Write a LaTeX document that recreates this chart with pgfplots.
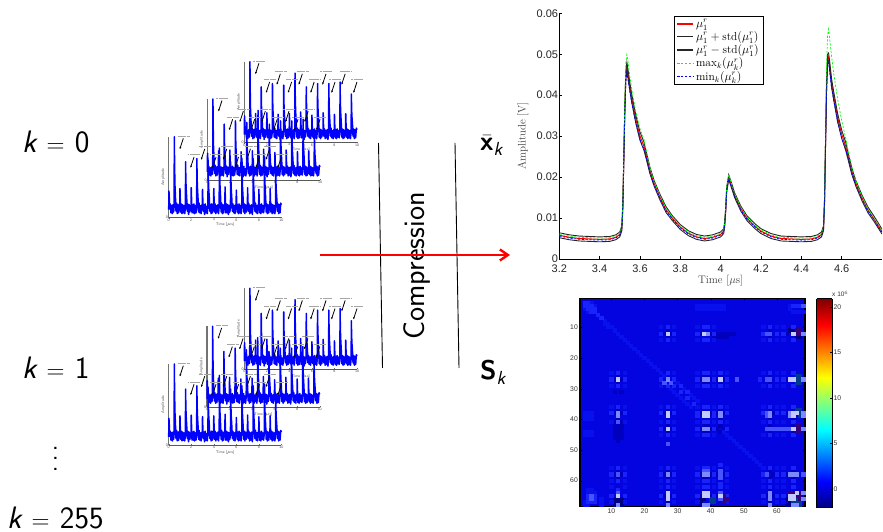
\documentclass[border=0pt]{standalone}
\usepackage{amsmath}
\usepackage{graphicx}
\usepackage{fontspec}
\usepackage{pgfplots}
\usepackage{pgfplotstable}
\pgfplotsset{compat=1.18}
\usetikzlibrary{arrows.meta}
\newfontfamily\hv{Liberation Sans}
\definecolor{hbase}{RGB}{4,4,224}
\definecolor{hdtwo}{RGB}{0,0,135}
\definecolor{hdone}{RGB}{0,0,190}
\definecolor{hlone}{RGB}{8,16,238}
\definecolor{hltwo}{RGB}{24,36,250}
\definecolor{hlthree}{RGB}{70,85,255}
\definecolor{hlfour}{RGB}{125,138,255}
\definecolor{hlfive}{RGB}{195,202,255}
\definecolor{hpur}{RGB}{55,0,125}
\definecolor{hteal}{RGB}{0,60,140}

\pgfplotstableread[row sep=\\]{
x y\\
0 .1\\ .02 .33\\ .05 .25\\ .09 .11\\ .14 .17\\ .2 .06\\ .26 .15\\ .32 .05\\ .38 .16\\ .44 .07\\ .48 .14\\
.5 1\\ .52 .68\\ .55 .42\\ .6 .25\\ .65 .08\\ .7 .18\\ .76 .05\\ .82 .16\\ .88 .06\\ .94 .17\\ .98 .1\\
1 .36\\ 1.03 .2\\ 1.07 .07\\ 1.12 .17\\ 1.18 .05\\ 1.24 .16\\ 1.3 .06\\ 1.36 .15\\ 1.42 .05\\ 1.48 .12\\
1.5 .69\\ 1.52 .47\\ 1.55 .36\\ 1.6 .23\\ 1.65 .08\\ 1.7 .17\\ 1.76 .04\\ 1.82 .16\\ 1.88 .07\\ 1.94 .15\\ 1.98 .1\\
2 .37\\ 2.03 .22\\ 2.07 .06\\ 2.12 .16\\ 2.18 .06\\ 2.24 .17\\ 2.3 .05\\ 2.36 .15\\ 2.42 .06\\ 2.48 .13\\
2.5 .73\\ 2.52 .5\\ 2.55 .37\\ 2.6 .24\\ 2.65 .07\\ 2.7 .18\\ 2.76 .06\\ 2.82 .15\\ 2.88 .05\\ 2.94 .16\\ 2.98 .1\\
3 .35\\ 3.03 .2\\ 3.07 .08\\ 3.12 .16\\ 3.18 .04\\ 3.24 .17\\ 3.3 .06\\ 3.36 .14\\ 3.42 .05\\ 3.48 .13\\
3.5 .71\\ 3.52 .48\\ 3.55 .36\\ 3.6 .25\\ 3.65 .08\\ 3.7 .16\\ 3.76 .05\\ 3.82 .17\\ 3.88 .06\\ 3.94 .15\\ 3.98 .09\\
4 .36\\ 4.03 .21\\ 4.07 .07\\ 4.12 .17\\ 4.18 .05\\ 4.24 .15\\ 4.3 .07\\ 4.36 .16\\ 4.42 .05\\ 4.48 .14\\
4.5 .86\\ 4.52 .58\\ 4.55 .4\\ 4.6 .26\\ 4.65 .07\\ 4.7 .18\\ 4.76 .05\\ 4.82 .16\\ 4.88 .06\\ 4.94 .15\\ 4.98 .1\\
5 .38\\ 5.03 .22\\ 5.07 .06\\ 5.12 .17\\ 5.18 .06\\ 5.24 .16\\ 5.3 .04\\ 5.36 .15\\ 5.42 .07\\ 5.48 .13\\
5.5 .69\\ 5.52 .47\\ 5.55 .35\\ 5.6 .23\\ 5.65 .08\\ 5.7 .17\\ 5.76 .06\\ 5.82 .15\\ 5.88 .05\\ 5.94 .16\\ 5.98 .11\\
6 .34\\ 6.03 .2\\ 6.07 .07\\ 6.12 .16\\ 6.18 .05\\ 6.24 .17\\ 6.3 .06\\ 6.36 .15\\ 6.42 .05\\ 6.48 .14\\
6.5 .73\\ 6.52 .5\\ 6.55 .37\\ 6.6 .24\\ 6.65 .07\\ 6.7 .17\\ 6.76 .05\\ 6.82 .16\\ 6.88 .07\\ 6.94 .15\\ 6.98 .1\\
7 .37\\ 7.03 .21\\ 7.07 .08\\ 7.12 .17\\ 7.18 .05\\ 7.24 .15\\ 7.3 .06\\ 7.36 .16\\ 7.42 .04\\ 7.48 .13\\
7.5 .73\\ 7.52 .5\\ 7.55 .37\\ 7.6 .24\\ 7.65 .08\\ 7.7 .18\\ 7.76 .06\\ 7.82 .15\\ 7.88 .05\\ 7.94 .16\\ 7.98 .1\\
8 .35\\ 8.03 .2\\ 8.07 .06\\ 8.12 .16\\ 8.18 .05\\ 8.24 .17\\ 8.3 .07\\ 8.36 .15\\ 8.42 .06\\ 8.48 .14\\
8.5 .75\\ 8.52 .51\\ 8.55 .38\\ 8.6 .25\\ 8.65 .07\\ 8.7 .17\\ 8.76 .05\\ 8.82 .16\\ 8.88 .06\\ 8.94 .15\\ 8.98 .1\\
9 .36\\ 9.03 .21\\ 9.07 .07\\ 9.12 .17\\ 9.18 .05\\ 9.24 .16\\ 9.3 .06\\ 9.36 .15\\ 9.42 .05\\ 9.48 .13\\
9.5 .6\\ 9.52 .42\\ 9.55 .32\\ 9.6 .22\\ 9.65 .08\\ 9.7 .17\\ 9.76 .05\\ 9.82 .16\\ 9.88 .06\\ 9.94 .18\\ 10 .16\\
}\sig

\pgfplotstableread[row sep=\\]{
x m p n M L\\
3.2 .0058 .0064 .0052 .0061 .0056\\
3.25 .0053 .0059 .0047 .0056 .0051\\
3.3 .0050 .0056 .0044 .0053 .0048\\
3.4 .0048 .0054 .0042 .0051 .0046\\
3.45 .0049 .0055 .0043 .0052 .0047\\
3.48 .0053 .0059 .0047 .0056 .0051\\
3.5 .0060 .0066 .0054 .0063 .0058\\
3.51 .0075 .0081 .0069 .0078 .0073\\
3.515 .013 .0137 .0123 .0135 .0125\\
3.52 .025 .0257 .0243 .026 .024\\
3.525 .037 .0378 .0362 .039 .036\\
3.53 .045 .046 .044 .048 .0435\\
3.535 .0472 .048 .0462 .0499 .0455\\
3.54 .0455 .0465 .0445 .0485 .044\\
3.55 .042 .043 .041 .0445 .0408\\
3.56 .039 .04 .038 .0412 .038\\
3.58 .034 .035 .033 .0358 .033\\
3.6 .030 .031 .029 .0318 .0292\\
3.62 .0275 .0285 .0265 .0292 .0268\\
3.63 .0255 .0264 .0246 .0268 .025\\
3.65 .0215 .0223 .0207 .0222 .021\\
3.67 .0185 .0192 .0178 .0190 .0181\\
3.7 .0150 .0157 .0143 .0154 .0147\\
3.73 .0120 .0127 .0113 .0123 .0117\\
3.76 .0100 .0106 .0094 .0103 .0098\\
3.8 .0078 .0084 .0072 .0081 .0076\\
3.84 .0063 .0069 .0057 .0066 .0061\\
3.88 .0054 .0060 .0048 .0057 .0052\\
3.92 .0050 .0056 .0044 .0053 .0048\\
3.96 .0053 .0059 .0047 .0056 .0051\\
4.0 .0060 .0066 .0054 .0063 .0058\\
4.015 .0068 .0074 .0062 .0071 .0066\\
4.02 .0085 .0091 .0079 .0088 .0083\\
4.025 .012 .0126 .0114 .0124 .0117\\
4.03 .017 .0176 .0164 .0175 .0166\\
4.04 .020 .0206 .0194 .0206 .0195\\
4.05 .0185 .0191 .0179 .0190 .0181\\
4.07 .0155 .0161 .0149 .0159 .0152\\
4.1 .0123 .0129 .0117 .0126 .0120\\
4.13 .0100 .0106 .0094 .0103 .0098\\
4.17 .0080 .0086 .0074 .0083 .0078\\
4.2 .0068 .0074 .0062 .0071 .0066\\
4.25 .0056 .0062 .0050 .0059 .0054\\
4.3 .0050 .0056 .0044 .0053 .0048\\
4.4 .0048 .0054 .0042 .0051 .0046\\
4.45 .0049 .0055 .0043 .0052 .0047\\
4.48 .0053 .0059 .0047 .0056 .0051\\
4.5 .0060 .0066 .0054 .0063 .0058\\
4.51 .0075 .0081 .0069 .0078 .0073\\
4.515 .014 .0147 .0133 .0146 .0135\\
4.52 .028 .0288 .0272 .031 .0272\\
4.525 .042 .043 .041 .047 .040\\
4.53 .049 .050 .048 .0545 .0475\\
4.535 .0494 .0503 .0484 .0561 .0478\\
4.54 .0475 .0485 .0465 .054 .046\\
4.55 .043 .044 .042 .0495 .0418\\
4.56 .040 .041 .039 .0455 .0388\\
4.58 .0345 .0355 .0335 .039 .0335\\
4.6 .0305 .0315 .0295 .0338 .0296\\
4.62 .0275 .0285 .0265 .0295 .0268\\
4.63 .0255 .0264 .0246 .0270 .025\\
4.65 .0215 .0223 .0207 .0224 .021\\
4.67 .0185 .0192 .0178 .0191 .0181\\
4.7 .0150 .0157 .0143 .0154 .0147\\
4.73 .012 .0127 .0113 .0123 .0117\\
4.76 .0098 .0105 .0092 .0101 .0096\\
4.8 .0067 .0073 .0061 .0070 .0065\\
}\mainT

\newcommand{\arr}[2]{%
 \draw[black!35,line width=.3pt,dash pattern=on .8pt off .3pt] (axis cs:#1-0.5,#2+.03) -- (axis cs:#1+0.5,#2+.03);
 \draw[-{Latex[length=2.2pt,width=2pt]},line width=.8pt,black] (axis cs:#1,#2) -- (axis cs:#1-0.32,#2-0.135);}
\newcommand{\arrows}{%
 \arr{1.3}{.98}\arr{2.25}{.75}\arr{3.2}{.85}\arr{4.2}{.75}\arr{5.15}{.85}\arr{6.2}{.75}\arr{7.25}{.85}\arr{8.05}{.75}\arr{8.95}{.85}\arr{10}{.75}}

\pgfplotsset{small/.style={scale only axis,anchor=south west,width=112.7pt,height=81pt,
  xmin=0,xmax=10,ymin=0,ymax=1,axis lines=left,
  x axis line style={-,draw=black!65,line width=.9pt},
  y axis line style={-,draw=black!55,line width=1.2pt},
  xtick={0,2,4,6,8,10},ytick={0},xticklabels={0,2,4,6,8,10},yticklabels={0},
  tick align=inside,major tick length=1pt,tick style={black!60,line width=.2pt},
  tick label style={font=\fontsize{3.6}{4}\selectfont\hv,text=black!70,inner sep=.6pt},
  xlabel={Time [$\mu$s]},ylabel={Amplitude},
  label style={font=\fontsize{3.8}{4}\selectfont,text=black!70},
  xlabel style={at={(axis description cs:.5,-.09)},anchor=center},
  ylabel style={at={(axis description cs:-.05,.5)},anchor=center,rotate=0},
  clip=false}}
\newcommand{\sm}[2]{%
 \begin{axis}[small,at={(#1pt,#2pt)}]
 \addplot[blue,line width=1.5pt,line join=round] table[x=x,y=y] {\sig};
 \arrows
 \end{axis}}
\newcommand{\kk}[1]{{\itshape k}\,\,$=$\,\,#1}

\pgfplotsset{cell/.style={only marks,mark=square*,mark size=1.66pt,color=#1,mark options={draw=#1,fill=#1,line width=0pt,yscale=.925}}}

\begin{document}
\begin{tikzpicture}
\useasboundingbox (0pt,0pt) rectangle (883pt,532pt);
\sffamily

% first stack (back to front)
\sm{244.3}{389.3}
\sm{207.3}{352}
\sm{168.7}{314.3}
% second stack
\sm{244.3}{162.7}
\sm{207.0}{124.7}
\sm{168.7}{87}

% text
\node[anchor=base west,inner sep=0pt,font=\fontsize{31}{36}\selectfont\sffamily] at (22pt,379.3pt) {\kk{0}};
\node[anchor=base west,inner sep=0pt,font=\fontsize{31}{36}\selectfont\sffamily] at (22pt,153pt) {\kk{1}};
\node[anchor=base west,inner sep=0pt,font=\fontsize{31}{36}\selectfont\sffamily] at (7pt,3pt) {\kk{255}};
\node[inner sep=0pt] at (55.5pt,81pt) {\scalebox{2.6}{$\vdots$}};
\node[rotate=90,inner sep=0pt,font=\fontsize{30}{36}\selectfont\sffamily] at (417pt,266pt) {Compression};
\node[anchor=base west,inner sep=0pt,font=\fontsize{27}{32}\selectfont\sffamily] at (480pt,381pt) {$\bar{\text{\sffamily\bfseries x}}_{\text{\sffamily\itshape k}}$};
\node[anchor=base west,inner sep=0pt,font=\fontsize{27}{32}\selectfont\sffamily] at (480pt,152pt) {$\text{\sffamily\bfseries S}_{\text{\sffamily\itshape k}}$};
\draw[black,line width=.9pt] (378.5pt,389pt) -- (382.5pt,164pt);
\draw[black,line width=.9pt] (455pt,389pt) -- (459pt,164pt);
\draw[red,line width=2.4pt,-{Straight Barb[length=8pt,width=11pt]}] (320pt,277pt) -- (510pt,277pt);

% main line chart
\begin{axis}[scale only axis,anchor=south west,at={(559.3pt,273pt)},width=322.7pt,height=245.7pt,
  scaled y ticks=false,scaled x ticks=false,
  xmin=3.2,xmax=4.8,ymin=0,ymax=.06,axis lines=left,axis line style={-,draw=black,line width=.7pt},
  xtick={3.2,3.4,3.6,3.8,4,4.2,4.4,4.6},xticklabels={3.2,3.4,3.6,3.8,4,4.2,4.4,4.6},
  ytick={0,.01,.02,.03,.04,.05,.06},yticklabels={0,0.01,0.02,0.03,0.04,0.05,0.06},
  tick align=inside,major tick length=3pt,tick style={black,line width=.4pt},
  tick label style={font=\fontsize{11}{12}\selectfont\hv,text=black!85,inner sep=1pt},
  xticklabel style={yshift=-5pt},
  xlabel={Time [$\mu$s]},ylabel={Amplitude [V]},
  label style={font=\fontsize{11}{12}\selectfont\rmfamily,text=black!75},
  xlabel style={at={(axis cs:4,0)},anchor=center,yshift=-22pt},
  ylabel style={at={(axis description cs:-.113,.5)},anchor=center},
  legend style={at={(.355,.989)},anchor=north west,draw=black,line width=.9pt,
    font=\fontsize{11.5}{12}\selectfont\rmfamily,inner ysep=.8pt,inner xsep=2.5pt,row sep=-1.2pt,
    /tikz/every even column/.append style={column sep=1pt}},
  legend cell align=left,
  legend image code/.code={\draw[#1,line width=1.3pt] (0pt,0pt) -- (16pt,0pt);}]
\addplot[draw=red,line width=1pt] table[x=x,y=m] {\mainT};\addlegendentry{$\mu_1^r$}
\addplot[draw=black!85,line width=.9pt] table[x=x,y=p] {\mainT};\addlegendentry{$\mu_1^r+\mathrm{std}(\mu_1^r)$}
\addplot[draw=black!85,line width=.9pt] table[x=x,y=n] {\mainT};\addlegendentry{$\mu_1^r-\mathrm{std}(\mu_1^r)$}
\addplot[draw=green,line width=.7pt,dash pattern=on 2.2pt off 1.6pt] table[x=x,y=M] {\mainT};\addlegendentry{$\max_k(\mu_k^r)$}
\addplot[draw=blue,line width=.7pt,dash pattern=on 2.2pt off 1.6pt] table[x=x,y=L] {\mainT};\addlegendentry{$\min_k(\mu_k^r)$}
\end{axis}

% heat map
\begin{axis}[scale only axis,anchor=south west,at={(580pt,25.3pt)},width=225pt,height=208.4pt,
  xmin=.5,xmax=68.5,ymin=.5,ymax=68.5,y dir=reverse,axis on top,
  axis background/.style={fill=hbase},
  axis line style={black,line width=1.1pt},
  xtick={10,20,30,40,50,60},ytick={10,20,30,40,50,60},
  xticklabels={10,20,30,40,50,60},yticklabels={10,20,30,40,50,60},
  tick align=inside,major tick length=2pt,tick style={black,line width=.3pt},
  tick label style={font=\fontsize{6.8}{8}\selectfont\hv,text=black!80,inner sep=2pt}]
% darker surroundings
\addplot[cell=hdone] coordinates {(11,41)(12,41)(13,41)(11,42)(12,42)(13,42)(11,43)(12,43)(13,43)(11,44)(12,44)(13,44)(11,45)(12,45)(13,45)(11,46)(12,46)(13,46)(12,47)(11,31)(13,31)
(11,27)(13,27)(12,26)(12,28)(11,38)(13,38)(12,37)(12,40)(11,58)(13,58)(12,57)(12,59)
(26,12)(28,12)(27,11)(27,13)(26,38)(28,38)(27,37)(27,40)(26,43)(28,43)(27,42)(27,44)(26,58)(28,58)(27,57)(27,59)(26,65)(28,65)(27,63)(27,67)
(37,12)(40,12)(37,27)(40,27)(38,26)(39,26)(38,28)(39,28)(37,38)(40,38)(37,43)(40,43)(38,42)(39,42)(38,44)(39,44)(37,58)(40,58)(38,57)(39,57)(38,59)(39,59)(37,65)(40,65)
(42,27)(44,27)(43,26)(43,28)(42,38)(44,38)(43,37)(43,40)(42,43)(44,43)(43,42)(43,44)(42,58)(44,58)(42,65)(44,65)
(58,11)(58,13)(58,26)(58,28)(57,38)(59,38)(58,37)(58,40)(58,42)(58,44)(57,58)(59,58)(58,57)(58,59)(57,65)(59,65)(58,63)(58,67)
(63,12)(63,27)(63,38)(63,58)(65,57)(65,59)(65,37)(65,40)(65,42)(65,44)
(41,12)(42,12)(43,12)(44,12)(45,12)(46,12)(47,12)(41,13)(42,13)(43,13)(44,13)(45,13)};
\addplot[cell=hdtwo] coordinates {(11,66)(12,66)(13,66)(11,67)(12,67)(13,67)(11,68)(13,68)(65,11)(64,11)(66,13)(67,13)(64,67)(63,66)(64,66)(64,68)(63,68)(38,66)(37,66)(37,67)(37,68)};
% lighter level 1
\addplot[cell=hlone] coordinates {(10,25)(14,25)(10,29)(14,29)(10,36)(14,36)(10,41)(14,41)(10,56)(14,56)(10,60)(14,60)(10,62)(14,62)(10,67)(14,67)
(25,10)(29,10)(25,14)(29,14)(25,25)(29,25)(25,29)(25,36)(29,36)(25,41)(29,41)(25,45)(29,45)(25,56)(29,56)(25,60)(29,60)(25,62)(29,62)(25,67)(29,67)
(36,10)(41,10)(36,14)(41,14)(36,25)(41,25)(36,29)(41,29)(36,36)(41,36)(36,41)(41,41)(36,45)(41,45)(36,56)(41,56)(36,60)(41,60)(36,62)(41,62)(36,67)(41,67)
(45,25)(45,29)(45,36)(45,41)(45,45)(45,56)(45,60)(45,62)(45,67)
(56,10)(60,10)(56,14)(60,14)(56,25)(60,25)(56,29)(60,29)(56,36)(60,36)(56,41)(60,41)(56,45)(60,45)(56,56)(60,56)(56,60)(60,60)(56,62)(60,62)(56,67)(60,67)
(62,10)(62,14)(62,25)(62,29)(62,36)(62,41)(62,45)(62,56)(62,60)(62,62)(62,67)
(36,3)(37,3)(38,3)(39,3)(40,3)(36,4)(37,4)(38,4)(39,4)(40,4)(41,3)(42,3)(43,3)(44,3)(41,4)(42,4)(43,4)(44,4)(64,3)(64,4)(65,5)(66,5)(67,5)(68,5)
(2,38)(3,38)(4,38)(2,39)(3,39)(4,39)(2,40)(3,40)(4,40)(2,44)(3,44)(4,44)(2,45)(3,45)(4,45)(3,64)(4,64)(5,64)(3,63)(4,63)(2,67)(2,68)(3,68)(7,66)(7,67)(7,68)
(8,8)(9,9)(10,10)(11,11)(12,12)(13,13)(14,14)(15,15)(16,16)(17,17)(18,18)(19,19)(20,20)(21,21)(22,22)(23,23)(24,24)(25,25)(26,26)(44,44)(45,45)(46,46)(47,47)(48,48)(49,49)(50,50)(51,51)(52,52)(53,53)(54,54)(55,55)(56,56)(8,9)(9,10)(3,5)(4,5)(5,4)(5,3)(2,4)(4,2)
(30,28)(28,30)(32,30)(30,32)(34,32)(32,34)(36,34)(34,36)(31,29)(29,31)(33,31)(31,33)(35,33)(33,35)};
% lighter level 2
\addplot[cell=hltwo] coordinates {(2,2)(3,3)(4,4)(5,5)(6,6)(7,7)(3,2)(2,3)(4,3)(3,4)(5,4)(4,5)
(10,27)(14,27)(12,25)(12,29)(10,38)(14,38)(12,36)(10,58)(14,58)(12,56)(12,60)(10,65)(14,65)(12,63)
(25,12)(29,12)(27,10)(27,14)(25,27)(29,27)(27,25)(27,29)(25,38)(29,38)(27,36)(27,41)(25,43)(29,43)(27,45)(25,58)(29,58)(27,56)(27,60)(25,65)(29,65)(27,62)
(36,12)(41,12)(38,10)(39,10)(38,14)(39,14)(36,27)(41,27)(38,25)(39,25)(38,29)(39,29)(36,38)(41,38)(36,39)(41,39)(38,36)(39,36)(38,41)(39,41)(36,43)(41,43)(38,45)(39,45)(36,58)(41,58)(38,56)(39,56)(38,60)(39,60)(36,65)(41,65)(38,62)(39,62)
(45,27)(43,25)(43,29)(45,38)(43,36)(43,41)(45,43)(45,58)(43,55)(43,61)(45,65)(43,62)
(56,12)(60,12)(58,10)(58,14)(55,27)(60,27)(58,25)(58,29)(56,38)(60,38)(58,36)(58,41)(58,45)(56,58)(60,58)(58,56)(58,60)(56,65)(60,65)(58,62)
(62,12)(65,10)(65,14)(62,27)(65,25)(65,29)(62,38)(65,36)(65,41)(65,45)(62,58)(65,56)(65,60)(62,65)(65,62)
(65,3)(66,3)(67,3)(68,3)(3,65)(4,65)(5,65)(3,66)(4,66)(5,66)(3,67)(4,67)(5,67)(29,29)(31,31)(33,31)(31,29)(33,33)(35,35)};
\addplot[cell=hteal] coordinates {(66,26)(67,26)(66,27)(67,27)(66,28)(67,28)(67,37)(66,37)(67,38)(67,39)(40,66)(41,66)(40,67)(41,67)(65,67)(66,66)(67,67)(66,67)(67,68)(66,68)};
\addplot[cell=hpur] coordinates {(66,11)(67,11)(66,12)(67,12)(66,42)(67,42)(66,43)(67,43)(66,44)(67,44)(43,66)(44,66)(44,65)(44,67)(45,66)(65,64)(66,64)(67,64)(68,64)(66,65)(67,65)(67,66)(64,64)};
% bright levels
\addplot[cell=hlthree] coordinates {(57,12)(58,12)(57,27)(58,27)(48,27)(27,48)(12,58)(28,28)(43,58)(43,57)(43,59)(43,66)(43,64)(68,58)(38,57)(39,57)(12,64)(57,43)(58,43)(59,43)(60,43)(61,43)(62,43)(63,43)(64,43)(4,65)(4,66)(12,41)(57,58)(57,38)(57,39)(26,28)(68,3)};
\addplot[cell=hlfour] coordinates {(27,27)(12,38)(12,39)(39,12)(38,27)(39,27)(27,58)(12,68)(27,68)(38,43)(39,43)(38,58)(39,58)(58,38)(58,39)(58,64)(58,65)(58,66)(64,58)(65,58)(66,58)(68,12)(68,27)(68,38)(68,39)(68,43)(68,64)(68,66)(38,68)(39,68)(58,68)(65,68)(66,68)(64,38)(64,39)(43,38)(43,39)};
\addplot[cell=hlfive] coordinates {(27,12)(12,27)(27,38)(27,39)(27,43)(27,64)(27,65)(27,66)(12,65)(38,12)(65,12)(43,27)(65,27)(64,27)(38,38)(39,38)(38,39)(39,39)(65,43)(65,38)(66,38)(65,39)(38,65)(39,65)(38,64)(39,64)(43,65)(65,65)(64,65)(65,66)(66,64)(64,66)};
\end{axis}

% colour bar
\begin{axis}[scale only axis,anchor=south west,at={(816.7pt,24pt)},width=15.3pt,height=209.3pt,
  xmin=0,xmax=1,ymin=-2.1,ymax=20.9,view={0}{90},axis on top,colormap/jet,
  point meta min=-2.1,point meta max=20.9,
  xtick=\empty,ytick={0,5,10,15,20},yticklabels={0,5,10,15,20},
  yticklabel pos=right,ytick pos=right,
  tick align=inside,major tick length=2pt,tick style={black,line width=.3pt},
  axis line style={black,line width=1pt},
  tick label style={font=\fontsize{6.8}{8}\selectfont\hv,text=black!80,inner sep=1.5pt}]
\addplot3[surf,shader=interp,mesh/rows=2,point meta=y] coordinates {(0,-2.1,0)(1,-2.1,0) (0,20.9,0)(1,20.9,0)};
\end{axis}
\node[anchor=west,inner sep=0pt,font=\fontsize{6.5}{8}\selectfont\hv,text=black!80] at (832pt,238pt) {x 10$^{6}$};
\end{tikzpicture}
\end{document}
